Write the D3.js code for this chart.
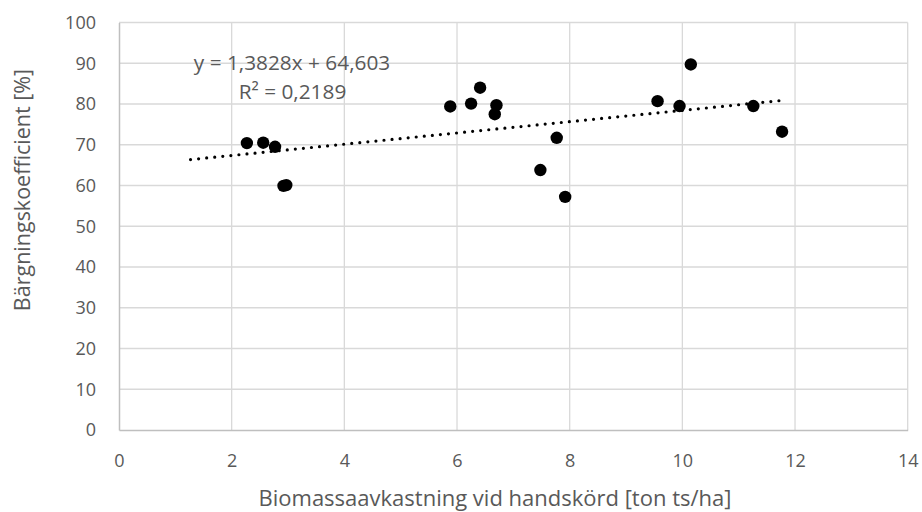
<!DOCTYPE html>
<html>
<head>
<meta charset="utf-8">
<script src="https://cdn.jsdelivr.net/npm/d3@7"></script>
<style>
  html, body { margin: 0; padding: 0; background: #fff; }
  svg { display: block; }
  text { font-family: "Open Sans", sans-serif; fill: #595959; }
</style>
</head>
<body>
<script>
// Hand-harvested biomass yield vs. recovery coefficient
const biomassYield = [2.27, 2.56, 2.77, 2.92, 2.97, 5.88, 6.25, 6.41, 6.70, 6.67, 7.48, 7.77, 7.92, 9.56, 9.95, 10.15, 11.26, 11.77];
const recoveryCoef = [70.4, 70.5, 69.5, 59.9, 60.1, 79.4, 80.1, 84.0, 79.7, 77.5, 63.8, 71.7, 57.2, 80.7, 79.5, 89.7, 79.5, 73.2];

// Linear trendline (least squares) as reported
const trendSlope = 1.3828;
const trendIntercept = 64.603;
const trendR2 = 0.2189;
const trendRange = [1.27, 11.77];

const xTicks = [0, 2, 4, 6, 8, 10, 12, 14];
const yTicks = [0, 10, 20, 30, 40, 50, 60, 70, 80, 90, 100];

const xTitle = "Biomassaavkastning vid handskörd [ton ts/ha]";
const yTitle = "Bärgningskoefficient [%]";

const W = 922, H = 512;
const margin = { left: 119, right: 14.3, top: 22.5, bottom: 82 };

const svg = d3.select("body").append("svg").attr("width", W).attr("height", H);

const x = d3.scaleLinear().domain([0, 14]).range([margin.left, W - margin.right]);
const y = d3.scaleLinear().domain([0, 100]).range([H - margin.bottom, margin.top]);

const fmt = v => String(v).replace(".", ",");

// Gridlines
const grid = svg.append("g");
grid.selectAll("line.v").data(xTicks.filter(d => d > 0)).join("line")
  .attr("x1", d => x(d)).attr("x2", d => x(d))
  .attr("y1", y(0)).attr("y2", y(100))
  .attr("stroke", "#d9d9d9").attr("stroke-width", 1.3);
grid.selectAll("line.h").data(yTicks.filter(d => d > 0)).join("line")
  .attr("x1", x(0)).attr("x2", x(14))
  .attr("y1", d => y(d)).attr("y2", d => y(d))
  .attr("stroke", "#d9d9d9").attr("stroke-width", 1.3);

// Axes
const xAxis = svg.append("g").attr("transform", `translate(0,${y(0)})`)
  .call(d3.axisBottom(x).tickValues(xTicks).tickSize(0).tickPadding(24).tickFormat(d => d));
const yAxis = svg.append("g").attr("transform", `translate(${x(0)},0)`)
  .call(d3.axisLeft(y).tickValues(yTicks).tickSize(0).tickPadding(23).tickFormat(d => d));
[xAxis, yAxis].forEach(g => {
  g.select(".domain").attr("stroke", "#bfbfbf").attr("stroke-width", 1.5);
  g.selectAll("text").attr("font-size", 18).attr("fill", "#595959")
    .attr("font-family", '"Open Sans", sans-serif');
});

// Trendline (dotted)
const trendData = trendRange.map(v => ({ x: v, y: trendSlope * v + trendIntercept }));
svg.append("path")
  .datum(trendData)
  .attr("d", d3.line().x(d => x(d.x)).y(d => y(d.y)))
  .attr("fill", "none")
  .attr("stroke", "#000")
  .attr("stroke-width", 3.2)
  .attr("stroke-linecap", "round")
  .attr("stroke-dasharray", "0 8.1");

// Points
svg.append("g").selectAll("circle")
  .data(biomassYield.map((v, i) => ({ x: v, y: recoveryCoef[i] })))
  .join("circle")
  .attr("cx", d => x(d.x))
  .attr("cy", d => y(d.y))
  .attr("r", 6.2)
  .attr("fill", "#000");

// Trendline label
const lbl = svg.append("text").attr("font-size", 20.8).attr("text-anchor", "middle");
lbl.append("tspan").attr("x", 292).attr("y", 69.5)
  .text(`y = ${fmt(trendSlope)}x + ${fmt(trendIntercept)}`);
lbl.append("tspan").attr("x", 292.5).attr("y", 98.5)
  .text(`R² = ${fmt(trendR2)}`);

// Axis titles
svg.append("text")
  .attr("x", 495).attr("y", 505.5)
  .attr("text-anchor", "middle").attr("font-size", 22)
  .text(xTitle);
svg.append("text")
  .attr("transform", `translate(30,190) rotate(-90)`)
  .attr("text-anchor", "middle").attr("font-size", 21.5)
  .text(yTitle);
</script>
</body>
</html>
